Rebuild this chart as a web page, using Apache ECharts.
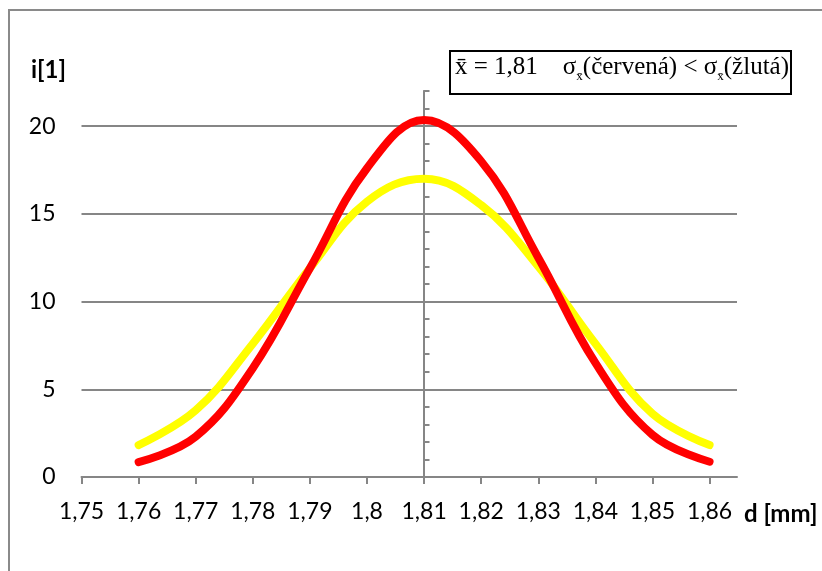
<!DOCTYPE html>
<html>
<head>
<meta charset="utf-8">
<script src="https://cdn.jsdelivr.net/npm/echarts@6/dist/echarts.min.js"></script>
<style>
  html, body { margin: 0; padding: 0; background: #fff; }
  #chart { width: 822px; height: 571px; }
</style>
</head>
<body>
<div id="chart"></div>
<script>
// data
var d = [1.76, 1.77, 1.78, 1.79, 1.80, 1.81, 1.82, 1.83, 1.84, 1.85, 1.86];
var red = [0.85, 2.3, 6.2, 11.9, 17.6, 20.35, 18.0, 12.5, 6.5, 2.4, 0.87];
var yellow = [1.82, 3.8, 7.6, 11.9, 15.7, 17.0, 15.5, 12.0, 7.6, 3.6, 1.82];
var xTicks = [1.75, 1.76, 1.77, 1.78, 1.79, 1.8, 1.81, 1.82, 1.83, 1.84, 1.85, 1.86];

var Chart = echarts.init(document.getElementById('chart'));

function pairs(xs, ys) {
  var out = [];
  for (var i = 0; i < xs.length; i++) out.push([xs[i], ys[i]]);
  return out;
}

var axisGray = '#868686';
var font = 'Lato, "Noto Sans", sans-serif';

var option = {
  animation: false,
  grid: [
    { left: 81.5, top: 91, width: 655.5, height: 386 },
    // narrow grid used only for the vertical axis drawn at 1,81
    { left: 423.5, top: 91, width: 10, height: 386 }
  ],
  xAxis: [{
    type: 'value',
    min: 1.75,
    max: 1.8648,
    axisLine: { lineStyle: { color: axisGray, width: 2 } },
    axisTick: { customValues: xTicks, length: 7, lineStyle: { color: axisGray, width: 2 } },
    axisLabel: {
      customValues: xTicks,
      color: '#000',
      fontFamily: font,
      fontSize: 23,
      margin: 23,
      formatter: function (v) { return String(v).replace('.', ','); }
    },
    splitLine: { show: false }
  }, {
    gridIndex: 1, type: 'value', min: 0, max: 1, show: false
  }],
  yAxis: [{
    type: 'value',
    min: 0,
    max: 22,
    interval: 5,
    axisLine: { show: false },
    axisTick: { show: false },
    axisLabel: {
      color: '#000',
      fontFamily: font,
      fontSize: 23,
      margin: 26,
      showMaxLabel: false
    },
    splitLine: { showMaxLine: false, lineStyle: { color: axisGray, width: 2 } }
  }, {
    gridIndex: 1,
    type: 'value',
    min: 0,
    max: 22,
    interval: 1,
    axisLine: { show: true, lineStyle: { color: axisGray, width: 2 } },
    axisTick: { inside: true, length: 6, lineStyle: { color: axisGray, width: 2 } },
    axisLabel: { show: false },
    splitLine: { show: false }
  }],
  series: [{
    type: 'line',
    data: pairs(d, yellow),
    smooth: 0.4,
    showSymbol: false,
    z: 3,
    lineStyle: { color: '#ffff00', width: 8, cap: 'round' }
  }, {
    type: 'line',
    data: pairs(d, red),
    smooth: 0.4,
    showSymbol: false,
    z: 4,
    lineStyle: { color: '#ff0000', width: 8, cap: 'round' }
  }],
  graphic: [
    // chart area border (top and left only visible)
    {
      type: 'polyline',
      shape: { points: [[9, 571], [9, 10], [822, 10]] },
      style: { stroke: '#8a8a8a', lineWidth: 2, fill: null }
    },
    {
      type: 'text', left: 31, top: 58,
      style: { text: 'i[1]', font: 'bold 24px ' + font, fill: '#000' }
    },
    {
      type: 'text', left: 744, top: 502,
      style: { text: 'd [mm]', font: 'bold 24px ' + font, fill: '#000' }
    },
    {
      type: 'rect', left: 449, top: 50,
      shape: { width: 341, height: 43 },
      style: { fill: '#fff', stroke: '#000', lineWidth: 2 }
    },
    {
      type: 'text', left: 455, top: 55,
      style: {
        text: '{a|x̄ = 1,81    σ}{s|x̄}{a|(červená) < σ}{s|x̄}{a|(žlutá)}',
        rich: {
          a: { fontFamily: '"Liberation Serif", serif', fontSize: 25, lineHeight: 32, fill: '#000' },
          s: { fontFamily: '"Liberation Serif", serif', fontSize: 13, lineHeight: 32, verticalAlign: 'bottom', fill: '#000' }
        }
      }
    }
  ]
};

Chart.setOption(option);
</script>
</body>
</html>
